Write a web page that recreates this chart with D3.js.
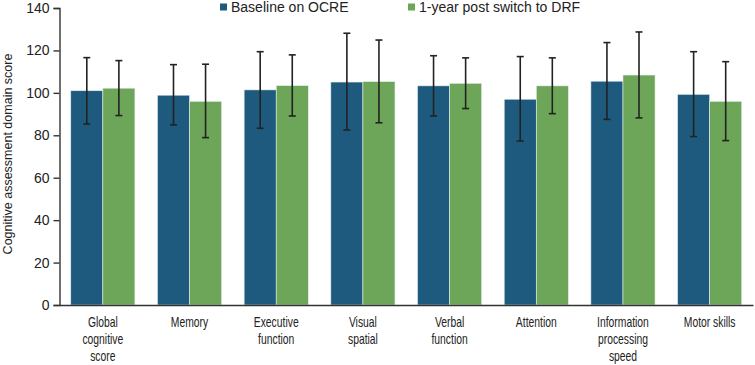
<!DOCTYPE html>
<html>
<head>
<meta charset="utf-8">
<script src="https://cdn.jsdelivr.net/npm/d3@7"></script>
<style>
  body { margin: 0; background: #fff; }
  text { font-family: "Liberation Sans", Arial, sans-serif; fill: #222; }
</style>
</head>
<body>
<div id="chart"></div>
<script>
// data
var domains = [
    ["Global", "cognitive", "score"],
    ["Memory"],
    ["Executive", "function"],
    ["Visual", "spatial"],
    ["Verbal", "function"],
    ["Attention"],
    ["Information", "processing", "speed"],
    ["Motor skills"]
];
var seriesNames = ["Baseline on OCRE", "1-year post switch to DRF"];
var baseline     = [101.0, 98.9, 101.4, 105.1, 103.3, 97.0, 105.5, 99.3];
var baselineLow  = [85.3, 84.9, 83.3, 82.5, 89.1, 77.3, 87.5, 79.4];
var baselineHigh = [116.6, 113.3, 119.4, 128.1, 117.5, 117.1, 123.7, 119.4];
var postSwitch     = [102.2, 96.0, 103.4, 105.3, 104.5, 103.3, 108.4, 96.0];
var postSwitchLow  = [89.3, 78.9, 89.1, 85.9, 92.6, 90.2, 88.2, 77.5];
var postSwitchHigh = [115.2, 113.5, 117.9, 124.9, 116.5, 116.5, 128.7, 114.7];
var yTicks = [0, 20, 40, 60, 80, 100, 120, 140];

var colors = ["#1e5a7e", "#6ea659"];

var margin = {top: 8, right: 2, bottom: 60, left: 59.5},
    width = 755 - margin.left - margin.right,
    height = 365 - margin.top - margin.bottom;

var svg = d3.select("#chart")
    .append("svg")
    .attr("width", width + margin.left + margin.right)
    .attr("height", height + margin.top + margin.bottom)
    .append("g")
    .attr("transform", "translate(" + margin.left + "," + margin.top + ")");

var rows = domains.map(function(d, i) {
    return {
        key: i,
        label: d,
        values: [
            {s: 0, v: baseline[i], lo: baselineLow[i], hi: baselineHigh[i]},
            {s: 1, v: postSwitch[i], lo: postSwitchLow[i], hi: postSwitchHigh[i]}
        ]
    };
});

var x0 = d3.scaleBand()
    .domain(rows.map(function(d) { return d.key; }))
    .range([0, width])
    .paddingInner(0.26)
    .paddingOuter(0.13);

var x1 = d3.scaleBand()
    .domain([0, 1])
    .range([0, x0.bandwidth()]);

var y = d3.scaleLinear()
    .domain([0, 140])
    .range([height, 0]);

// bars
var groups = svg.selectAll(".grp")
    .data(rows)
    .enter()
    .append("g")
    .attr("transform", function(d) { return "translate(" + x0(d.key) + ",0)"; });

groups.selectAll("rect")
    .data(function(d) { return d.values; })
    .enter()
    .append("rect")
    .attr("x", function(d) { return x1(d.s); })
    .attr("y", function(d) { return y(d.v); })
    .attr("width", x1.bandwidth())
    .attr("height", function(d) { return height - y(d.v); })
    .attr("fill", function(d) { return colors[d.s]; })
    .attr("stroke", "#e4eef0")
    .attr("stroke-width", 0.6);

// error bars
var err = groups.selectAll(".err")
    .data(function(d) { return d.values; })
    .enter()
    .append("g")
    .attr("stroke", "#222")
    .attr("stroke-width", 1.6);

err.append("line")
    .attr("x1", function(d) { return x1(d.s) + x1.bandwidth() / 2; })
    .attr("x2", function(d) { return x1(d.s) + x1.bandwidth() / 2; })
    .attr("y1", function(d) { return y(d.lo); })
    .attr("y2", function(d) { return y(d.hi); });

err.append("line")
    .attr("x1", function(d) { return x1(d.s) + x1.bandwidth() / 2 - 3.5; })
    .attr("x2", function(d) { return x1(d.s) + x1.bandwidth() / 2 + 3.5; })
    .attr("y1", function(d) { return y(d.hi); })
    .attr("y2", function(d) { return y(d.hi); });

err.append("line")
    .attr("x1", function(d) { return x1(d.s) + x1.bandwidth() / 2 - 3.5; })
    .attr("x2", function(d) { return x1(d.s) + x1.bandwidth() / 2 + 3.5; })
    .attr("y1", function(d) { return y(d.lo); })
    .attr("y2", function(d) { return y(d.lo); });

// Y axis
var yAxis = svg.append("g")
    .call(d3.axisLeft(y).tickValues(yTicks).tickSize(6).tickPadding(4));
yAxis.selectAll("text").style("font-size", "14px").attr("fill", "#222");
yAxis.selectAll("line, path").attr("stroke", "#333").attr("stroke-width", 1.4);

// X axis
var xAxis = svg.append("g")
    .attr("transform", "translate(0," + height + ")")
    .call(d3.axisBottom(x0).tickSize(0).tickSizeOuter(0).tickFormat(""));
xAxis.select("path").attr("stroke", "#333").attr("stroke-width", 1.6);

// category labels are set in a narrow face, so squeeze them horizontally
xAxis.selectAll(".tick")
    .append("text")
    .attr("text-anchor", "middle")
    .attr("transform", "scale(0.74,1)")
    .style("font-size", "14px")
    .attr("fill", "#222")
    .each(function(d) {
        var t = d3.select(this);
        domains[d].forEach(function(line, i) {
            t.append("tspan")
                .attr("x", 0)
                .attr("y", 22.5 + i * 16.8)
                .text(line);
        });
    });

// y label
svg.append("text")
    .attr("transform", "rotate(-90)")
    .attr("x", -(154 - margin.top))
    .attr("y", -margin.left + 12)
    .attr("text-anchor", "middle")
    .style("font-size", "12.5px")
    .text("Cognitive assessment domain score");

// legend
var legendX = [160.5, 348.5];
var legend = svg.selectAll(".leg")
    .data(seriesNames)
    .enter()
    .append("g")
    .attr("transform", function(d, i) { return "translate(" + legendX[i] + "," + (-margin.top + 3.5) + ")"; });

legend.append("rect")
    .attr("width", 7)
    .attr("height", 7)
    .attr("fill", function(d, i) { return colors[i]; });

legend.append("text")
    .attr("x", 11)
    .attr("y", 8)
    .style("font-size", "14px")
    .text(function(d) { return d; });
</script>
</body>
</html>
